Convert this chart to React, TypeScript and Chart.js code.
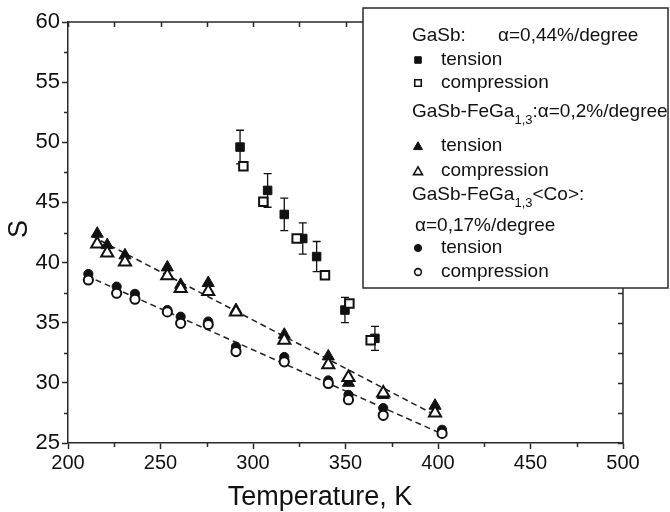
import React, { useEffect, useRef } from 'react';
import { Chart, registerables } from 'chart.js';

Chart.register(...registerables);

const FONT = '"Liberation Sans", Arial, Helvetica, sans-serif';
const INK = '#111';
const AXIS = '#2a2a2a';

// ---- data (S vs Temperature, K) ----
const tempGaSbTension = [293.0, 307.9, 316.9, 326.9, 334.4, 349.7, 365.9];
const sGaSbTension = [49.6, 46.0, 44.0, 42.0, 40.5, 36.05, 33.7];
const errGaSbTension = [1.4, 1.4, 1.35, 1.3, 1.25, 1.05, 1.0];

const tempGaSbCompression = [294.8, 305.6, 323.6, 338.9, 352.1, 363.6];
const sGaSbCompression = [48.0, 45.05, 42.0, 38.95, 36.6, 33.55];

const tempFeGa = [215.8, 221.2, 230.8, 253.7, 260.9, 275.8, 290.8, 316.9, 340.7, 351.6, 370.4, 398.4];
const sFeGaTension = [42.4, 41.45, 40.6, 39.6, 38.15, 38.3, 36.05, 34.0, 32.2, 30.0, 29.0, 28.1];
const sFeGaCompression = [41.55, 40.8, 40.05, 38.9, 37.85, 37.6, 35.9, 33.55, 31.5, 30.45, 29.15, 27.5];

const tempFeGaCo = [211, 226.3, 236.2, 253.7, 260.9, 275.8, 290.8, 316.9, 340.7, 351.6, 370.4, 402.2];
const sFeGaCoTension = [39.05, 38.0, 37.4, 36.05, 35.5, 35.1, 33.0, 32.15, 30.2, 29.0, 27.9, 26.1];
const sFeGaCoCompression = [38.55, 37.45, 36.95, 35.9, 34.95, 34.85, 32.6, 31.75, 29.95, 28.6, 27.3, 25.8];

const fitFeGaT = [213, 400];
const fitFeGaS = [42.2, 27.2];
const fitFeGaCoT = [210, 403];
const fitFeGaCoS = [38.9, 25.7];

// ---- axes ----
const xMin = 200;
const xMax = 500;
const yMin = 25;
const yMax = 60;
const xMajorTicks = [200, 250, 300, 350, 400, 450, 500];
const xMinorTicks = [225, 275, 325, 375, 425, 475];
const yMajorTicks = [25, 30, 35, 40, 45, 50, 55, 60];
const yMinorTicks = [27.5, 32.5, 37.5, 42.5, 47.5, 52.5, 57.5];
const xTitle = 'Temperature, K';
const yTitle = 'S';

const pts = (xs: number[], ys: number[]) => xs.map((x, i) => ({ x, y: ys[i] }));

function drawMarker(ctx: CanvasRenderingContext2D, style: string, x: number, y: number, r: number, filled: boolean, lw: number) {
  ctx.beginPath();
  if (style === 'rect') {
    const s = r * Math.SQRT1_2;
    ctx.rect(x - s, y - s, 2 * s, 2 * s);
  } else if (style === 'triangle') {
    ctx.moveTo(x, y - r);
    ctx.lineTo(x + 0.866 * r, y + 0.5 * r);
    ctx.lineTo(x - 0.866 * r, y + 0.5 * r);
    ctx.closePath();
  } else {
    ctx.arc(x, y, r, 0, Math.PI * 2);
  }
  ctx.fillStyle = filled ? INK : '#fff';
  ctx.fill();
  ctx.lineWidth = lw;
  ctx.strokeStyle = INK;
  ctx.stroke();
}

const errorBarPlugin = {
  id: 'errorBars',
  beforeDatasetsDraw(chart: any) {
    const { ctx, scales } = chart;
    const xs = scales.x;
    const ys = scales.y;
    ctx.save();
    ctx.strokeStyle = INK;
    ctx.lineWidth = 1.3;
    tempGaSbTension.forEach((t, i) => {
      const x = xs.getPixelForValue(t);
      const y1 = ys.getPixelForValue(sGaSbTension[i] + errGaSbTension[i]);
      const y2 = ys.getPixelForValue(sGaSbTension[i] - errGaSbTension[i]);
      ctx.beginPath();
      ctx.moveTo(x, y1);
      ctx.lineTo(x, y2);
      ctx.moveTo(x - 4, y1);
      ctx.lineTo(x + 4, y1);
      ctx.moveTo(x - 4, y2);
      ctx.lineTo(x + 4, y2);
      ctx.stroke();
    });
    ctx.restore();
  },
};

const framePlugin = {
  id: 'frameAndLegend',
  afterDraw(chart: any) {
    const { ctx, scales, chartArea } = chart;
    const xs = scales.x;
    const ys = scales.y;
    const { left, right, top, bottom } = chartArea;
    ctx.save();
    ctx.strokeStyle = AXIS;
    ctx.lineWidth = 1.5;
    ctx.beginPath();
    ctx.moveTo(left, top);
    ctx.lineTo(right, top);
    ctx.lineTo(right, bottom);
    ctx.stroke();
    ctx.beginPath();
    xMinorTicks.forEach((v) => {
      const x = Math.round(xs.getPixelForValue(v)) + 0.5;
      ctx.moveTo(x, bottom);
      ctx.lineTo(x, bottom + 4);
    });
    yMinorTicks.forEach((v) => {
      const y = Math.round(ys.getPixelForValue(v)) + 0.5;
      ctx.moveTo(left, y);
      ctx.lineTo(left - 4, y);
    });
    [...xMajorTicks, ...xMinorTicks].forEach((v) => {
      const x = Math.round(xs.getPixelForValue(v)) + 0.5;
      ctx.moveTo(x, top);
      ctx.lineTo(x, top + 5);
    });
    [...yMajorTicks, ...yMinorTicks].forEach((v) => {
      const y = Math.round(ys.getPixelForValue(v)) + 0.5;
      ctx.moveTo(right, y);
      ctx.lineTo(right - 5, y);
    });
    ctx.stroke();

    // axis titles
    ctx.fillStyle = INK;
    ctx.textAlign = 'center';
    ctx.textBaseline = 'middle';
    ctx.font = `27px ${FONT}`;
    ctx.fillText(xTitle, 320, 498);
    ctx.save();
    ctx.translate(20, 229);
    ctx.rotate(-Math.PI / 2);
    ctx.font = `27px ${FONT}`;
    ctx.fillText(yTitle, 0, 0);
    ctx.restore();

    // legend box
    const bx = 363, by = 8, bw = 305, bh = 280;
    ctx.fillStyle = '#fff';
    ctx.fillRect(bx, by, bw, bh);
    ctx.strokeStyle = AXIS;
    ctx.lineWidth = 1.5;
    ctx.strokeRect(bx, by, bw, bh);

    ctx.fillStyle = INK;
    ctx.textAlign = 'left';
    ctx.textBaseline = 'middle';
    const big = `19px ${FONT}`;
    const small = `13px ${FONT}`;
    const mx = 418;
    const tx = 441;
    ctx.font = big;
    ctx.fillText('GaSb:', 412, 36);
    ctx.fillText('α=0,44%/degree', 498, 36);
    drawMarker(ctx, 'rect', mx, 60, 4.6, true, 1);
    ctx.fillStyle = INK;
    ctx.font = big;
    ctx.fillText('tension', tx, 60);
    drawMarker(ctx, 'rect', mx, 83, 4.6, false, 1.6);
    ctx.fillStyle = INK;
    ctx.fillText('compression', tx, 83);

    const subLine = (y: number, after: string) => {
      let x = 412;
      ctx.font = big;
      ctx.fillText('GaSb-FeGa', x, y);
      x += ctx.measureText('GaSb-FeGa').width;
      ctx.font = small;
      ctx.fillText('1,3', x, y + 8);
      x += ctx.measureText('1,3').width;
      ctx.font = big;
      ctx.fillText(after, x, y);
    };
    subLine(112, ':α=0,2%/degree');
    drawMarker(ctx, 'triangle', mx, 147, 5.2, true, 1);
    ctx.fillStyle = INK;
    ctx.font = big;
    ctx.fillText('tension', tx, 146);
    drawMarker(ctx, 'triangle', mx, 172, 5.2, false, 1.6);
    ctx.fillStyle = INK;
    ctx.fillText('compression', tx, 171);
    subLine(195, '<Co>:');
    ctx.font = big;
    ctx.fillText('α=0,17%/degree', 415, 226);
    drawMarker(ctx, 'circle', mx, 248, 3.6, true, 1);
    ctx.fillStyle = INK;
    ctx.font = big;
    ctx.fillText('tension', tx, 248);
    drawMarker(ctx, 'circle', mx, 272, 3.4, false, 1.6);
    ctx.fillStyle = INK;
    ctx.fillText('compression', tx, 272);
    ctx.restore();
  },
};

export default function App() {
  const canvasRef = useRef<HTMLCanvasElement | null>(null);

  useEffect(() => {
    const canvas = canvasRef.current;
    if (!canvas) return;
    const filled = (label: string, data: any[], style: string, r: number) => ({
      label,
      data,
      showLine: false,
      pointStyle: style,
      pointRadius: r,
      pointBackgroundColor: INK,
      pointBorderColor: INK,
      pointBorderWidth: 1,
      order: 5,
    });
    const open = (label: string, data: any[], style: string, r: number) => ({
      label,
      data,
      showLine: false,
      pointStyle: style,
      pointRadius: r,
      pointBackgroundColor: '#fff',
      pointBorderColor: INK,
      pointBorderWidth: 2,
      order: 1,
    });
    const fit = (label: string, data: any[]) => ({
      label,
      data,
      showLine: true,
      pointRadius: 0,
      borderColor: '#222',
      borderWidth: 1.5,
      borderDash: [6, 4],
      fill: false,
      order: 10,
    });

    const chart = new Chart(canvas, {
      type: 'scatter',
      data: {
        datasets: [
          fit('fit GaSb-FeGa', pts(fitFeGaT, fitFeGaS)),
          fit('fit GaSb-FeGa<Co>', pts(fitFeGaCoT, fitFeGaCoS)),
          filled('GaSb tension', pts(tempGaSbTension, sGaSbTension), 'rect', 6),
          open('GaSb compression', pts(tempGaSbCompression, sGaSbCompression), 'rect', 6),
          filled('GaSb-FeGa tension', pts(tempFeGa, sFeGaTension), 'triangle', 7),
          open('GaSb-FeGa compression', pts(tempFeGa, sFeGaCompression), 'triangle', 7),
          filled('GaSb-FeGa<Co> tension', pts(tempFeGaCo, sFeGaCoTension), 'circle', 4.6),
          open('GaSb-FeGa<Co> compression', pts(tempFeGaCo, sFeGaCoCompression), 'circle', 4.6),
        ] as any,
      },
      options: {
        animation: false,
        responsive: false,
        devicePixelRatio: 1,
        layout: { padding: { top: 22, right: 47, left: 0, bottom: 0 } },
        plugins: { legend: { display: false }, tooltip: { enabled: false } },
        scales: {
          x: {
            type: 'linear',
            min: xMin,
            max: xMax,
            afterFit: (s: any) => { s.height = 69; },
            afterBuildTicks: (s: any) => { s.ticks = xMajorTicks.map((v) => ({ value: v })); },
            ticks: { color: INK, font: { family: FONT, size: 20 }, padding: 2, maxRotation: 0, autoSkip: false },
            grid: { drawOnChartArea: false, drawTicks: true, tickLength: 6, tickWidth: 1.5, tickColor: AXIS },
            border: { display: true, color: AXIS, width: 1.5 },
          },
          y: {
            type: 'linear',
            min: yMin,
            max: yMax,
            afterFit: (s: any) => { s.width = 68; },
            afterBuildTicks: (s: any) => { s.ticks = yMajorTicks.map((v) => ({ value: v })); },
            ticks: { color: INK, font: { family: FONT, size: 22 }, padding: 2, autoSkip: false },
            grid: { drawOnChartArea: false, drawTicks: true, tickLength: 6, tickWidth: 1.5, tickColor: AXIS },
            border: { display: true, color: AXIS, width: 1.5 },
          },
        },
      } as any,
      plugins: [errorBarPlugin, framePlugin],
    });
    return () => chart.destroy();
  }, []);

  return (
    <div style={{ position: 'fixed', left: 0, top: 0, width: 670, height: 512, background: '#fff' }}>
      <canvas ref={canvasRef} width={670} height={512} style={{ display: 'block' }} />
    </div>
  );
}
